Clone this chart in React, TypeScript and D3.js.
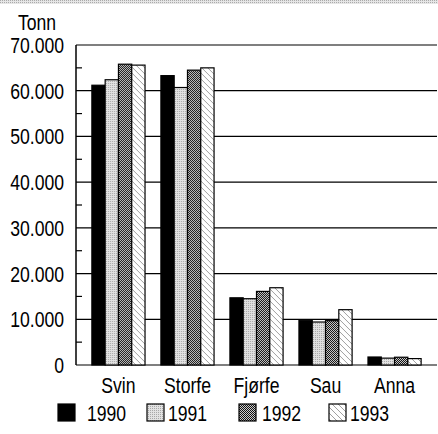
import React, { useRef, useEffect } from 'react';
import * as d3 from 'd3';

// Tonn per kategori og år
const categories = ['Svin', 'Storfe', 'Fjørfe', 'Sau', 'Anna'];
const years = ['1990', '1991', '1992', '1993'];
const v1990 = [61200, 63300, 14700, 9800, 1750];
const v1991 = [62400, 60700, 14500, 9400, 1500];
const v1992 = [65800, 64500, 16100, 9700, 1700];
const v1993 = [65600, 65000, 16900, 12100, 1400];
const yTicks = [0, 10000, 20000, 30000, 40000, 50000, 60000, 70000];

const series = [v1990, v1991, v1992, v1993];
const fills = ['#000', 'url(#p1991)', 'url(#p1992)', 'url(#p1993)'];
const font = "'Liberation Sans', Arial, sans-serif";
const SX = 0.8; // narrow the glyphs

const App = () => {
  const svgRef = useRef<SVGSVGElement>(null);

  useEffect(() => {
    const svg = d3.select(svgRef.current);
    svg.selectAll('*').remove();

    const margin = { top: 45, right: 1, bottom: 69, left: 76 };
    const W = 438, H = 434;
    const width = W - margin.left - margin.right;
    const height = H - margin.top - margin.bottom;

    const defs = svg.append('defs');
    const p1 = defs.append('pattern').attr('id', 'p1991').attr('width', 2).attr('height', 2).attr('patternUnits', 'userSpaceOnUse');
    p1.append('rect').attr('width', 2).attr('height', 2).attr('fill', '#e2e2e2');
    p1.append('rect').attr('width', 1).attr('height', 1).attr('fill', '#a8a8a8');
    const p2 = defs.append('pattern').attr('id', 'p1992').attr('width', 2).attr('height', 2).attr('patternUnits', 'userSpaceOnUse');
    p2.append('rect').attr('width', 2).attr('height', 2).attr('fill', '#ccc');
    p2.append('rect').attr('width', 1).attr('height', 1).attr('fill', '#111');
    p2.append('rect').attr('x', 1).attr('y', 1).attr('width', 1).attr('height', 1).attr('fill', '#111');
    const p3 = defs.append('pattern').attr('id', 'p1993').attr('width', 6).attr('height', 6).attr('patternUnits', 'userSpaceOnUse');
    p3.append('rect').attr('width', 6).attr('height', 6).attr('fill', '#fff');
    p3.append('path').attr('d', 'M0,0L6,6M-3,3L0,6M3,-3L6,0').attr('stroke', '#888').attr('stroke-width', 0.8);
    const pTop = defs.append('pattern').attr('id', 'ptop').attr('width', 2).attr('height', 2).attr('patternUnits', 'userSpaceOnUse');
    pTop.append('rect').attr('width', 2).attr('height', 2).attr('fill', '#e6e6e6');
    pTop.append('rect').attr('width', 1).attr('height', 1).attr('fill', '#aaa');

    // scanning strip on top
    svg.append('rect').attr('x', 0).attr('y', 0).attr('width', W).attr('height', 4).attr('fill', 'url(#ptop)');

    const txt = (sel, x, y, s, anchor = 'start') => {
      sel.append('text')
        .attr('transform', `translate(${x},${y}) scale(${SX},1)`)
        .attr('text-anchor', anchor)
        .style('font-family', font).style('font-size', '22px')
        .text(s);
    };

    const g = svg.append('g').attr('transform', `translate(${margin.left},${margin.top})`);

    const x0 = d3.scaleBand().domain(categories).range([0, width]).paddingInner(0.23).paddingOuter(0.23);
    const x1 = d3.scaleBand().domain(years).range([0, x0.bandwidth()]);
    const y = d3.scaleLinear().domain([0, 70000]).range([height, 0]);

    // gridlines
    g.selectAll('.grid').data(yTicks).enter().append('line')
      .attr('x1', 0).attr('x2', width)
      .attr('y1', d => y(d)).attr('y2', d => y(d))
      .attr('stroke', '#000').attr('stroke-width', 1.2);

    // minor ticks
    const minor = d3.range(5000, 70000, 10000);
    g.selectAll('.minor').data(minor).enter().append('line')
      .attr('x1', 0).attr('x2', 6)
      .attr('y1', d => y(d)).attr('y2', d => y(d))
      .attr('stroke', '#000').attr('stroke-width', 1.2);

    g.append('line').attr('x1', 0).attr('x2', 0).attr('y1', 0).attr('y2', height)
      .attr('stroke', '#000').attr('stroke-width', 1.5);

    // bars
    const groups = g.selectAll('.grp').data(categories).enter().append('g')
      .attr('transform', d => `translate(${x0(d)},0)`);
    groups.selectAll('rect')
      .data((c, i) => years.map((yr, k) => ({ yr, k, v: series[k][i] })))
      .enter().append('rect')
      .attr('x', d => x1(d.yr)!)
      .attr('width', x1.bandwidth())
      .attr('y', d => y(d.v))
      .attr('height', d => height - y(d.v))
      .attr('fill', d => fills[d.k])
      .attr('stroke', '#000').attr('stroke-width', 1.2);

    // y labels
    yTicks.forEach(d => {
      txt(g, -12, y(d) + 8, d === 0 ? '0' : d3.format(',')(d).replace(/,/g, '.'), 'end');
    });
    txt(svg, 18, 30, 'Tonn');

    // x labels
    categories.forEach(c => {
      txt(g, x0(c)! + x0.bandwidth() / 2, height + 28, c, 'middle');
    });

    // legend
    const legBox = [58, 147, 239, 329];
    const legText = [87, 168, 262, 350];
    years.forEach((yr, i) => {
      svg.append('rect').attr('x', legBox[i]).attr('y', 404).attr('width', 17).attr('height', 17)
        .attr('fill', fills[i]).attr('stroke', '#000').attr('stroke-width', 1.2);
      txt(svg, legText[i], 421, yr);
    });
  }, []);

  return <svg ref={svgRef} width={438} height={434} style={{ position: 'absolute', left: 0, top: 0 }}></svg>;
};

export default App;
